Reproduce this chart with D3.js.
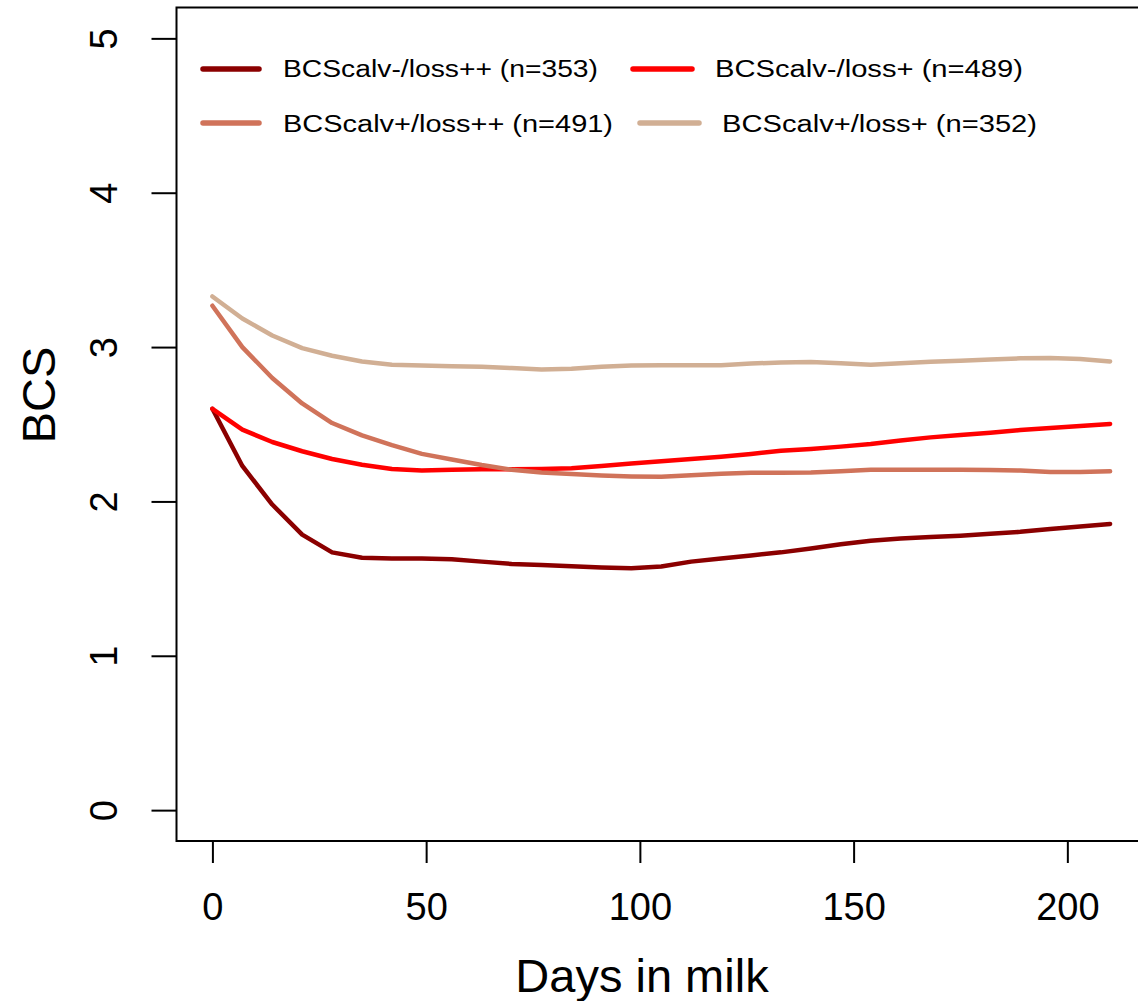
<!DOCTYPE html>
<html>
<head>
<meta charset="utf-8">
<script src="https://cdn.jsdelivr.net/npm/d3@7"></script>
<style>
  body { margin: 0; background: #fff; }
  svg { display: block; font-family: "Liberation Sans", Arial, sans-serif; }
</style>
</head>
<body>
<div id="chart"></div>
<script>
  // Data (BCS every 7 days in milk)
  var days = [0, 7, 14, 21, 28, 35, 42, 49, 56, 63, 70, 77, 84, 91, 98, 105,
              112, 119, 126, 133, 140, 147, 154, 161, 168, 175, 182, 189, 196, 203, 210];

  var calvMinusLossPP = [2.60, 2.23, 1.98, 1.785, 1.67, 1.635, 1.63, 1.63, 1.625, 1.61, 1.595,
                         1.588, 1.58, 1.572, 1.567, 1.578, 1.61, 1.63, 1.65, 1.67, 1.695,
                         1.722, 1.745, 1.76, 1.77, 1.778, 1.79, 1.803, 1.822, 1.838, 1.854];
  var calvMinusLossP  = [2.60, 2.465, 2.385, 2.325, 2.275, 2.238, 2.21, 2.20, 2.205, 2.208, 2.208,
                         2.21, 2.215, 2.23, 2.245, 2.26, 2.275, 2.29, 2.308, 2.328, 2.34,
                         2.355, 2.372, 2.395, 2.415, 2.43, 2.445, 2.462, 2.475, 2.488, 2.502];
  var calvPlusLossPP  = [3.268, 3.00, 2.80, 2.635, 2.508, 2.428, 2.365, 2.308, 2.272, 2.236, 2.205,
                         2.188, 2.177, 2.168, 2.162, 2.16, 2.17, 2.18, 2.185, 2.186, 2.187,
                         2.195, 2.205, 2.206, 2.206, 2.205, 2.203, 2.20, 2.19, 2.19, 2.195];
  var calvPlusLossP   = [3.328, 3.185, 3.075, 2.993, 2.944, 2.907, 2.886, 2.88, 2.876, 2.872, 2.864,
                         2.855, 2.86, 2.872, 2.88, 2.882, 2.882, 2.882, 2.893, 2.90, 2.903,
                         2.895, 2.886, 2.895, 2.905, 2.912, 2.92, 2.927, 2.929, 2.922, 2.907];

  var seriesNames = ["BCScalv-/loss++ (n=353)", "BCScalv-/loss+ (n=489)",
                     "BCScalv+/loss++ (n=491)", "BCScalv+/loss+ (n=352)"];
  var seriesColors = ["#8B0000", "#FF0000", "#D0735A", "#D1AF94"];
  var seriesValues = [calvMinusLossPP, calvMinusLossP, calvPlusLossPP, calvPlusLossP];

  var xTicks = [0, 50, 100, 150, 200];
  var yTicks = [0, 1, 2, 3, 4, 5];

  var width = 1138, height = 1001;
  var box = { left: 176.5, right: 1146, top: 7.5, bottom: 841 };

  var svg = d3.select("#chart").append("svg")
              .attr("width", width)
              .attr("height", height);

  // R-style scales with 4% padding
  var xScale = d3.scaleLinear().domain([-8.4, 218.4]).range([box.left, box.right]);
  var yScale = d3.scaleLinear().domain([-0.2, 5.2]).range([box.bottom, box.top]);

  // Lines
  var line = d3.line()
               .x(function(d) { return xScale(d[0]); })
               .y(function(d) { return yScale(d[1]); });

  seriesValues.forEach(function(vals, i) {
    var pts = days.map(function(d, j) { return [d, vals[j]]; });
    svg.append("path")
       .datum(pts)
       .attr("d", line)
       .attr("fill", "none")
       .attr("stroke", seriesColors[i])
       .attr("stroke-width", 4.5)
       .attr("stroke-linecap", "round")
       .attr("stroke-linejoin", "round");
  });

  // Box
  svg.append("rect")
     .attr("x", box.left).attr("y", box.top)
     .attr("width", box.right - box.left).attr("height", box.bottom - box.top)
     .attr("fill", "none").attr("stroke", "#000").attr("stroke-width", 2);

  // X axis
  var xAxis = svg.append("g")
     .attr("transform", "translate(0," + box.bottom + ")")
     .call(d3.axisBottom(xScale).tickValues(xTicks).tickFormat(d3.format("d")).tickSize(22));
  xAxis.select(".domain").remove();
  xAxis.selectAll(".tick line").attr("stroke", "#000").attr("stroke-width", 2);
  xAxis.selectAll(".tick text")
       .attr("y", 79).attr("dy", 0)
       .attr("fill", "#000")
       .style("font-size", "38px")
       .style("font-family", "'Liberation Sans', Arial, sans-serif");

  // Y axis
  var yAxis = svg.append("g")
     .attr("transform", "translate(" + box.left + ",0)")
     .call(d3.axisLeft(yScale).tickValues(yTicks).tickFormat(d3.format("d")).tickSize(25));
  yAxis.select(".domain").remove();
  yAxis.selectAll(".tick line").attr("stroke", "#000").attr("stroke-width", 2);
  yAxis.selectAll(".tick text")
       .attr("x", 0).attr("dy", 0)
       .attr("text-anchor", "middle")
       .attr("transform", "translate(-60,0) rotate(-90)")
       .attr("fill", "#000")
       .style("font-size", "38px")
       .style("font-family", "'Liberation Sans', Arial, sans-serif");

  // Axis titles
  svg.append("text")
     .attr("x", 642).attr("y", 992)
     .attr("text-anchor", "middle")
     .style("font-size", "47px")
     .text("Days in milk");

  svg.append("text")
     .attr("transform", "translate(55,395) rotate(-90)")
     .attr("text-anchor", "middle")
     .style("font-size", "47px")
     .text("BCS");

  // Legend (2 x 2)
  var legendPos = [
    { x1: 203, x2: 259, y: 69,  tx: 283, ty: 77,  w: 315 },
    { x1: 633, x2: 692, y: 69,  tx: 715, ty: 77,  w: 308 },
    { x1: 203, x2: 259, y: 123, tx: 283, ty: 132, w: 330 },
    { x1: 640, x2: 699, y: 123, tx: 722, ty: 132, w: 315 }
  ];
  var legend = svg.append("g");
  seriesNames.forEach(function(name, i) {
    var p = legendPos[i];
    legend.append("line")
          .attr("x1", p.x1).attr("x2", p.x2)
          .attr("y1", p.y).attr("y2", p.y)
          .attr("stroke", seriesColors[i])
          .attr("stroke-width", 5.5)
          .attr("stroke-linecap", "round");
    legend.append("text")
          .attr("x", p.tx).attr("y", p.ty)
          .attr("textLength", p.w)
          .attr("lengthAdjust", "spacingAndGlyphs")
          .style("font-size", "23px")
          .text(name);
  });
</script>
</body>
</html>
